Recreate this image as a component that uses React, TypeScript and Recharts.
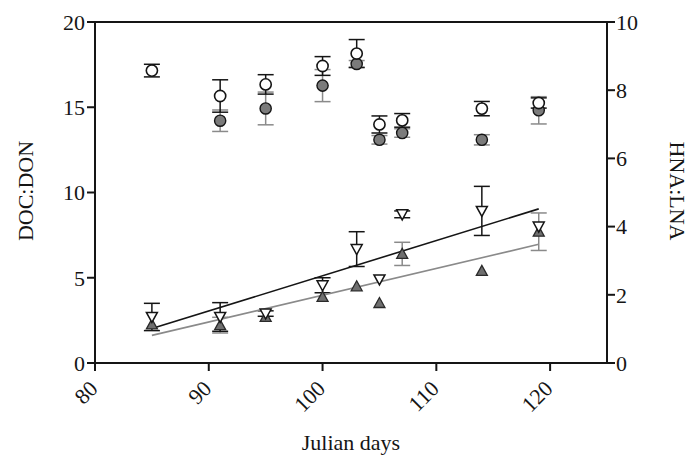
import React from "react";
import {
  ScatterChart,
  Scatter,
  XAxis,
  YAxis,
  ErrorBar,
  ReferenceLine,
  Label,
} from "recharts";

// sampling days (Julian)
const days = [85, 91, 95, 100, 103, 105, 107, 114, 119];

// DOC:DON, left axis
const docOpen = [17.15, 15.66, 16.34, 17.42, 18.15, 13.99, 14.23, 14.92, 15.25];
const docOpenErr = [0.37, 0.95, 0.57, 0.55, 0.82, 0.5, 0.4, 0.42, 0.3];
const docGray = [null, 14.21, 14.93, 16.27, 17.54, 13.09, 13.49, 13.09, 14.82];
const docGrayErr = [null, 0.63, 0.96, 0.94, 0.2, 0.25, 0.25, 0.3, 0.8];

// HNA:LNA, right axis
const hnaOpen = [1.35, 1.35, 1.45, 2.28, 3.34, 2.45, 4.36, 4.46, 4.0];
const hnaOpenErr = [0.4, 0.42, 0.08, 0.22, 0.51, 0, 0.1, 0.72, 0];
const hnaGray = [1.13, 1.11, 1.35, 1.94, 2.25, 1.76, 3.2, 2.7, 3.85];
const hnaGrayErr = [0, 0.23, 0, 0, 0, 0, 0.34, 0, 0.55];

// linear fits, right axis
const fitDays = [85, 119];
const fitOpen = [1.01, 4.52];
const fitGray = [0.81, 3.48];

const xTicks = [80, 90, 100, 110, 120];
const leftTicks = [0, 5, 10, 15, 20];
const rightTicks = [0, 2, 4, 6, 8, 10];

const FONT = "'Liberation Serif', 'Times New Roman', serif";
const INK = "#151515";

const toPoints = (ys: (number | null)[], errs?: (number | null)[]) =>
  days
    .map((x, i) => ({ x, y: ys[i], err: errs ? errs[i] : 0 }))
    .filter((p) => p.y !== null);

const toLine = (ys: number[]) => fitDays.map((x, i) => ({ x, y: ys[i] }));

const OpenCircle = (p: any) => (
  <circle cx={p.cx} cy={p.cy} r={5.6} fill="#fff" stroke={INK} strokeWidth={1.6} />
);
const GrayCircle = (p: any) => (
  <circle cx={p.cx} cy={p.cy} r={5.6} fill="#7b7b7b" stroke={INK} strokeWidth={1.4} />
);
const DownTri = (p: any) => (
  <polygon
    points={`${p.cx - 5.5},${p.cy - 4.5} ${p.cx + 5.5},${p.cy - 4.5} ${p.cx},${p.cy + 5.5}`}
    fill="#fff"
    stroke={INK}
    strokeWidth={1.5}
  />
);
const UpTri = (p: any) => (
  <polygon
    points={`${p.cx - 5.5},${p.cy + 4.5} ${p.cx + 5.5},${p.cy + 4.5} ${p.cx},${p.cy - 5.5}`}
    fill="#6f6f6f"
    stroke="#2a2a2a"
    strokeWidth={1.3}
  />
);
const NoDot = () => <g />;

function XTick({ x, y, payload }: any) {
  return (
    <g transform={`translate(${x + 4},${y + 17})`}>
      <text
        transform="rotate(-45)"
        textAnchor="end"
        fontFamily={FONT}
        fontSize={22}
        fill={INK}
      >
        {payload.value}
      </text>
    </g>
  );
}

const tickStyle = { fontFamily: FONT, fontSize: 22, fill: INK };

export default function App() {
  return (
    <div style={{ position: "absolute", left: 0, top: 0, background: "#fff" }}>
      <ScatterChart
        width={689}
        height={455}
        margin={{ top: 22, right: 0, bottom: 0, left: 0 }}
      >
        <XAxis
          type="number"
          dataKey="x"
          domain={[80, 125]}
          ticks={xTicks}
          allowDataOverflow
          height={92}
          stroke={INK}
          strokeWidth={2}
          tickSize={8}
          tickMargin={2}
          tick={<XTick />}
        >
          <Label
            content={() => (
              <text
                x={351}
                y={450}
                textAnchor="middle"
                fontFamily={FONT}
                fontSize={22}
                fill={INK}
              >
                Julian days
              </text>
            )}
          />
        </XAxis>
        <YAxis
          yAxisId="left"
          type="number"
          dataKey="y"
          domain={[0, 20]}
          ticks={leftTicks}
          width={95}
          stroke={INK}
          strokeWidth={2}
          tickSize={8}
          tickMargin={2}
          tick={tickStyle}
        >
          <Label
            content={() => (
              <text
                x={33}
                y={191}
                transform="rotate(-90 33 191)"
                textAnchor="middle"
                fontFamily={FONT}
                fontSize={22}
                fill={INK}
              >
                DOC:DON
              </text>
            )}
          />
        </YAxis>
        <YAxis
          yAxisId="right"
          orientation="right"
          type="number"
          dataKey="y"
          domain={[0, 10]}
          ticks={rightTicks}
          width={82}
          stroke={INK}
          strokeWidth={2}
          tickSize={8}
          tickMargin={1}
          tick={tickStyle}
        >
          <Label
            content={() => (
              <text
                x={670}
                y={191}
                transform="rotate(90 670 191)"
                textAnchor="middle"
                fontFamily={FONT}
                fontSize={22}
                fill={INK}
              >
                HNA:LNA
              </text>
            )}
          />
        </YAxis>
        <ReferenceLine yAxisId="left" y={20} stroke={INK} strokeWidth={2} />

        <Scatter
          yAxisId="right"
          data={toLine(fitGray)}
          line={{ stroke: "#8a8a8a", strokeWidth: 1.6 }}
          shape={NoDot}
          isAnimationActive={false}
        />
        <Scatter
          yAxisId="right"
          data={toLine(fitOpen)}
          line={{ stroke: INK, strokeWidth: 1.6 }}
          shape={NoDot}
          isAnimationActive={false}
        />

        <Scatter
          yAxisId="right"
          data={toPoints(hnaGray, hnaGrayErr)}
          shape={UpTri}
          isAnimationActive={false}
        >
          <ErrorBar dataKey="err" direction="y" width={8} stroke="#8a8a8a" strokeWidth={1.5} />
        </Scatter>
        <Scatter
          yAxisId="right"
          data={toPoints(hnaOpen, hnaOpenErr)}
          shape={DownTri}
          isAnimationActive={false}
        >
          <ErrorBar dataKey="err" direction="y" width={8} stroke={INK} strokeWidth={1.5} />
        </Scatter>

        <Scatter
          yAxisId="left"
          data={toPoints(docGray, docGrayErr)}
          shape={GrayCircle}
          isAnimationActive={false}
        >
          <ErrorBar dataKey="err" direction="y" width={8} stroke="#8a8a8a" strokeWidth={1.5} />
        </Scatter>
        <Scatter
          yAxisId="left"
          data={toPoints(docOpen, docOpenErr)}
          shape={OpenCircle}
          isAnimationActive={false}
        >
          <ErrorBar dataKey="err" direction="y" width={8} stroke={INK} strokeWidth={1.5} />
        </Scatter>
      </ScatterChart>
    </div>
  );
}
